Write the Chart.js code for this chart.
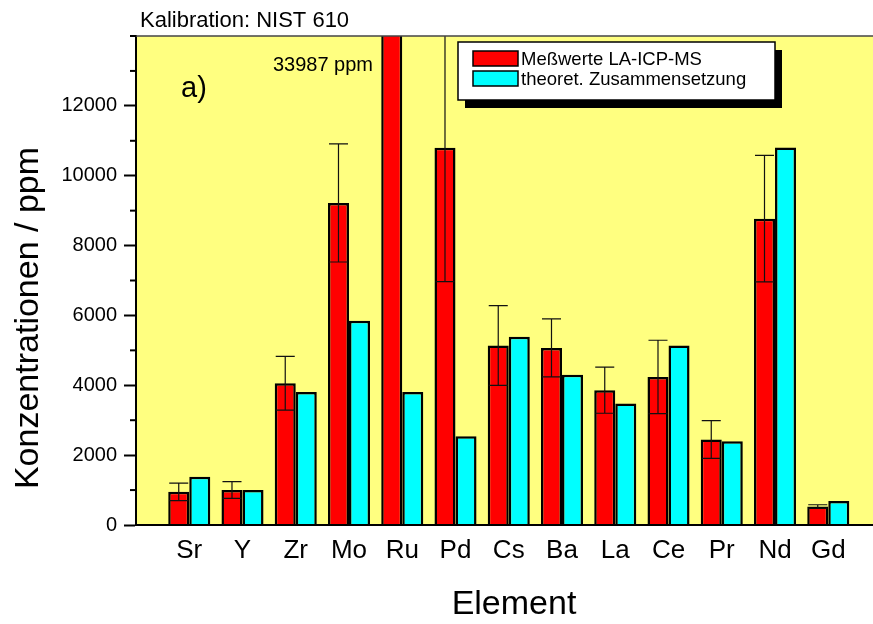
<!DOCTYPE html>
<html>
<head>
<meta charset="utf-8">
<script src="https://cdn.jsdelivr.net/npm/chart.js@4.4.0/dist/chart.umd.min.js"></script>
<style>
html, body { margin: 0; padding: 0; background: #fff; overflow: hidden; }
#wrap { width: 873px; height: 624px; position: relative; }
</style>
</head>
<body>
<div id="wrap"><canvas id="chart" width="873" height="624"></canvas></div>
<script>
// values (ppm)
const elements = ['Sr', 'Y', 'Zr', 'Mo', 'Ru', 'Pd', 'Cs', 'Ba', 'La', 'Ce', 'Pr', 'Nd', 'Gd'];
const measured = [950, 1000, 4060, 9220, 33987, 10800, 5140, 5070, 3860, 4240, 2450, 8770, 530];
const measuredErr = [250, 240, 770, 1690, 0, 3830, 1140, 830, 660, 1050, 540, 1810, 50];
const theoretical = [1380, 1000, 3810, 5850, 3810, 2540, 5390, 4300, 3480, 5140, 2400, 10810, 690];
const yMax = 14000;
const yStep = 1000;
const yLabelStep = 2000;

const FONT = "'Liberation Sans', Arial, sans-serif";
Chart.defaults.font.family = FONT;
Chart.defaults.color = '#000';

function isLabelled(v) {
  return v % yLabelStep === 0 && v < yMax;
}

const decorations = {
  id: 'decorations',
  beforeDraw(chart) {
    const {ctx, chartArea: a} = chart;
    ctx.save();
    ctx.fillStyle = '#FFFF80';
    ctx.fillRect(a.left, a.top, a.right - a.left, a.bottom - a.top);
    ctx.restore();
  },
  afterDatasetsDraw(chart) {
    const {ctx, chartArea: a} = chart;
    const ys = chart.scales.y;
    const meta = chart.getDatasetMeta(0);

    // error bars on the measured values
    ctx.save();
    ctx.beginPath();
    ctx.rect(a.left, a.top, a.right - a.left, a.bottom - a.top);
    ctx.clip();
    ctx.strokeStyle = '#111';
    ctx.lineWidth = 1.2;
    meta.data.forEach((bar, i) => {
      const e = measuredErr[i];
      if (!e) return;
      const p = bar.getProps(['x', 'width'], true);
      const top = ys.getPixelForValue(measured[i] + e);
      const bot = ys.getPixelForValue(measured[i] - e);
      const half = p.width / 2 - 1;
      ctx.beginPath();
      ctx.moveTo(p.x, top); ctx.lineTo(p.x, bot);
      ctx.moveTo(p.x - half, top); ctx.lineTo(p.x + half, top);
      ctx.moveTo(p.x - half, bot); ctx.lineTo(p.x + half, bot);
      ctx.stroke();
    });
    ctx.restore();

    ctx.save();
    // top frame line
    ctx.strokeStyle = '#444';
    ctx.lineWidth = 1.5;
    ctx.beginPath();
    ctx.moveTo(a.left, a.top); ctx.lineTo(a.right, a.top);
    ctx.stroke();

    // x axis line over the bar bases
    ctx.strokeStyle = '#000';
    ctx.lineWidth = 2;
    ctx.beginPath();
    ctx.moveTo(a.left, a.bottom); ctx.lineTo(a.right, a.bottom);
    ctx.stroke();

    // minor ticks on y
    ctx.lineWidth = 2;
    for (let v = 0; v <= yMax; v += yStep) {
      if (isLabelled(v)) continue;
      const y = ys.getPixelForValue(v);
      ctx.beginPath();
      ctx.moveTo(a.left - 6, y); ctx.lineTo(a.left, y);
      ctx.stroke();
    }

    // texts
    ctx.fillStyle = '#000';
    ctx.textBaseline = 'alphabetic';
    ctx.textAlign = 'left';
    ctx.font = '22px ' + FONT;
    ctx.fillText('Kalibration: NIST 610', 140, 27);
    ctx.font = '29px ' + FONT;
    ctx.fillText('a)', 181, 97);
    ctx.font = '20px ' + FONT;
    ctx.textAlign = 'right';
    ctx.fillText(measured[4] + ' ppm', 373, 71);

    // axis titles
    ctx.font = '34px ' + FONT;
    ctx.textAlign = 'center';
    ctx.fillText('Element', 514, 614);
    ctx.save();
    ctx.translate(38, 318);
    ctx.rotate(-Math.PI / 2);
    ctx.fillText('Konzentrationen / ppm', 0, 0);
    ctx.restore();

    // legend
    const lx = 458, ly = 42, lw = 317, lh = 58;
    ctx.fillStyle = '#000';
    ctx.fillRect(lx + 7, ly + 8, lw, lh);
    ctx.fillStyle = '#fff';
    ctx.fillRect(lx, ly, lw, lh);
    ctx.strokeStyle = '#000';
    ctx.lineWidth = 1.5;
    ctx.strokeRect(lx, ly, lw, lh);
    ctx.font = '18.5px ' + FONT;
    ctx.textAlign = 'left';
    chart.data.datasets.forEach((ds, i) => {
      const sy = 51 + i * 20;
      ctx.fillStyle = ds.backgroundColor;
      ctx.fillRect(473, sy, 45, 15);
      ctx.strokeStyle = '#000';
      ctx.lineWidth = 1.5;
      ctx.strokeRect(473, sy, 45, 15);
      ctx.fillStyle = '#000';
      ctx.fillText(ds.label, 521, sy + 14);
    });
    ctx.restore();
  }
};

new Chart(document.getElementById('chart'), {
  type: 'bar',
  data: {
    datasets: [
      {
        label: 'Meßwerte LA-ICP-MS',
        data: measured.map((v, i) => ({x: i + 1, y: v})),
        backgroundColor: '#FF0000',
        borderColor: '#000',
        borderWidth: 2.5
      },
      {
        label: 'theoret. Zusammensetzung',
        data: theoretical.map((v, i) => ({x: i + 1, y: v})),
        backgroundColor: '#00FFFF',
        borderColor: '#000',
        borderWidth: 2.5
      }
    ]
  },
  options: {
    responsive: false,
    animation: false,
    devicePixelRatio: 1,
    layout: {padding: {top: 36, right: 0, left: 0, bottom: 0}},
    datasets: {bar: {categoryPercentage: 0.79, barPercentage: 1}},
    scales: {
      x: {
        type: 'linear',
        offset: false,
        min: 0,
        max: 13.84,
        afterBuildTicks: s => { s.ticks = elements.map((e, i) => ({value: i + 1})); },
        afterFit: s => { s.height = 99; },
        grid: {drawOnChartArea: false, drawTicks: false},
        border: {color: '#000', width: 2},
        ticks: {
          callback: v => elements[v - 1] || '',
          font: {size: 26},
          color: '#000',
          padding: 10,
          autoSkip: false,
          maxRotation: 0
        }
      },
      y: {
        min: 0,
        max: yMax,
        afterFit: s => { s.width = 136; },
        ticks: {
          stepSize: yStep,
          callback: v => isLabelled(v) ? String(v) : '',
          font: {size: 20},
          color: '#000',
          padding: 7,
          autoSkip: false
        },
        grid: {
          drawOnChartArea: false,
          tickLength: 12,
          tickWidth: 2,
          tickColor: c => (c.tick && isLabelled(c.tick.value)) ? '#000' : 'rgba(0,0,0,0)'
        },
        border: {color: '#000', width: 2}
      }
    },
    plugins: {
      legend: {display: false},
      tooltip: {enabled: false}
    }
  },
  plugins: [decorations]
});
</script>
</body>
</html>
